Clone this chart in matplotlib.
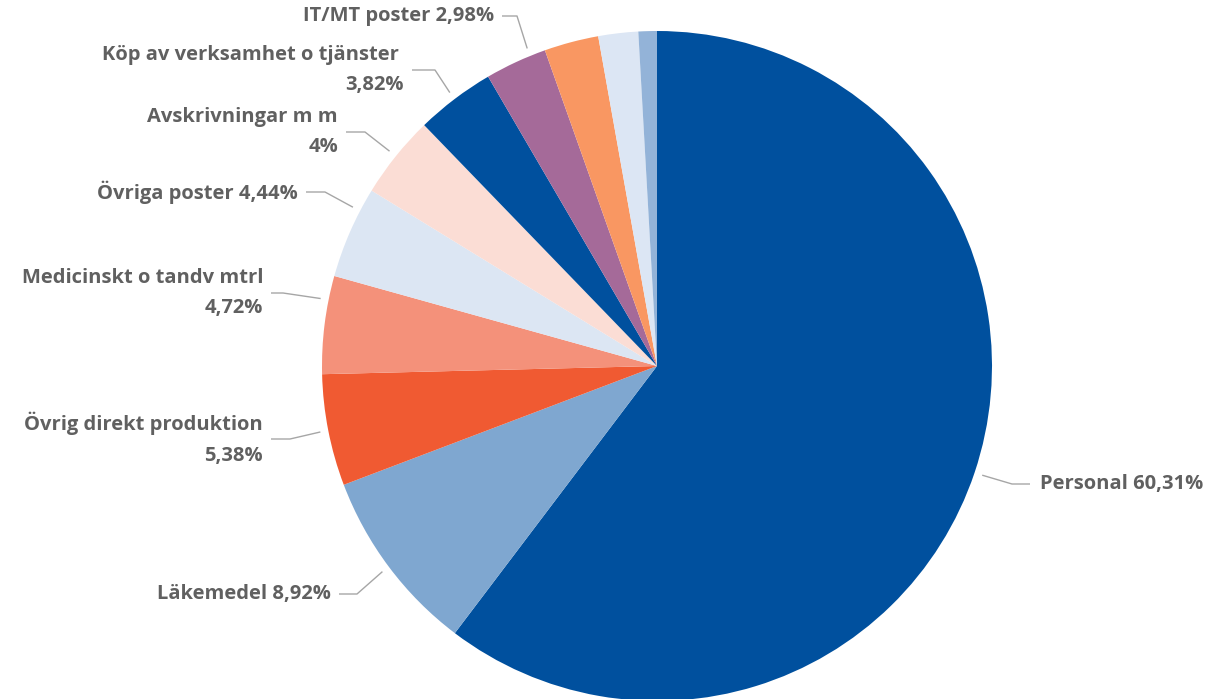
import numpy as np
import matplotlib.pyplot as plt

plt.rcParams.update({
    "font.family": ["Open Sans", "DejaVu Sans"],
    "font.size": 14.5,
})

# ── data (share of total costs, %) ────────────────────────────────────────
categories = ["Personal", "Läkemedel", "Övrig direkt produktion",
              "Medicinskt o tandv mtrl", "Övriga poster", "Avskrivningar m m",
              "Köp av verksamhet o tjänster", "IT/MT poster",
              "", "", ""]
shares = [60.31, 8.92, 5.38, 4.72, 4.44, 4.00, 3.82, 2.98, 2.62, 1.92, 0.89]
label_texts = ["Personal 60,31%", "Läkemedel 8,92%",
               "Övrig direkt produktion\n5,38%", "Medicinskt o tandv mtrl\n4,72%",
               "Övriga poster 4,44%", "Avskrivningar m m\n4%",
               "Köp av verksamhet o tjänster \n3,82%", "IT/MT poster 2,98%"]

colors = ["#00509E", "#7FA7D0", "#F05A32", "#F4917A", "#DCE6F3", "#FBDDD5",
          "#00509E", "#A56A99", "#F99762", "#DCE6F4", "#93B3D8"]

# ── layout (pixel coords, y from top) ─────────────────────────────────────
W, H = 1209, 699
CX, CY, R = 657, 366, 335
# text x, text y (middle), ha, elbow x, fraction along wedge for leader end
label_layout = [
    (1040, 484, "left", 1012, 0.5),
    (331, 594, "right", 357, 0.5),
    (263, 439, "right", 290, 0.5),
    (263, 293, "right", 283, 0.75),
    (298, 192, "right", 325, 0.75),
    (338, 132, "right", 365, 0.5),
    (404, 70, "right", 435, 0.5),
    (494, 16, "right", 517, 0.75),
]
TEXT_COLOR = "#606060"
LINE_COLOR = "#A6A6A6"


def py(y):
    return H - y


fig = plt.figure(figsize=(W / 100, H / 100), dpi=100)
ax = fig.add_axes([0, 0, 1, 1])
ax.pie(shares, colors=colors, startangle=90, counterclock=False,
       center=(CX, py(CY)), radius=R,
       wedgeprops=dict(linewidth=0))
ax.set_xlim(0, W)
ax.set_ylim(0, H)
ax.set_aspect("equal")
ax.axis("off")

cum = np.concatenate([[0], np.cumsum(shares)]) / 100.0
for i, txt in enumerate(label_texts):
    tx, ty, ha, ex, t = label_layout[i]
    frac = cum[i] + t * (cum[i + 1] - cum[i])
    theta = np.deg2rad(90 - 360 * frac)
    r_end = R * 1.024
    px = CX + r_end * np.cos(theta)
    pyy = py(CY) + r_end * np.sin(theta)
    gap = 8 if ha == "right" else -10
    ax.plot([px, ex, tx + gap], [pyy, py(ty), py(ty)],
            color=LINE_COLOR, lw=1.0, solid_capstyle="butt")
    ax.text(tx, py(ty), txt, ha=ha, va="center", multialignment=ha,
            color=TEXT_COLOR, fontweight="bold", linespacing=1.7)

fig.savefig("out.png", dpi=100)
